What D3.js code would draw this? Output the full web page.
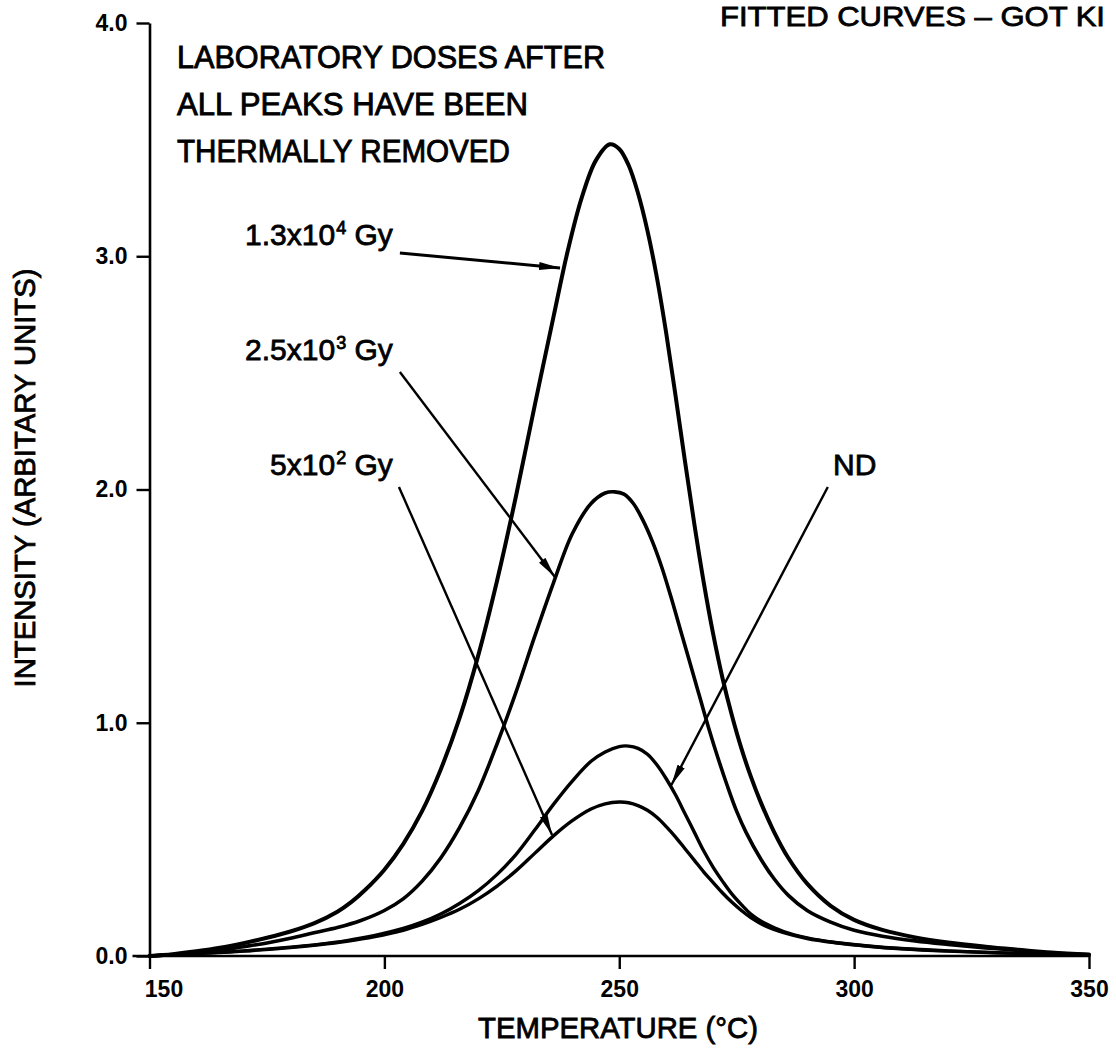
<!DOCTYPE html>
<html><head><meta charset="utf-8">
<script src="https://cdn.jsdelivr.net/npm/d3@7"></script>
<style>
body{margin:0;background:#fff}
svg{display:block;background:#fff}
text{font-family:"Liberation Sans",Arial,sans-serif;fill:#000}
</style>
</head><body>
<svg id="c" width="1116" height="1052"></svg>
<script>
// ---------- data ----------
const xTicks = [150, 200, 250, 300, 350];
const yTicks = [0, 1, 2, 3, 4];

// 1.3x10^4 Gy
const tempA = [150,155,160,165,170,175,180,185,190,193,196,200,204,208,212,216,220,224,228,232,236,239,242,245,248,250,252,254,256,258,260,262,264,266,268,270,272,274,276,278,280,283,286,290,295,300,306,313,320,328,335,342,350];
const intA  = [0,0.008,0.02,0.035,0.055,0.078,0.105,0.14,0.19,0.232,0.285,0.37,0.48,0.62,0.80,1.02,1.29,1.61,1.97,2.36,2.74,3.02,3.25,3.41,3.48,3.46,3.39,3.27,3.11,2.91,2.67,2.40,2.12,1.85,1.60,1.38,1.19,1.03,0.89,0.77,0.665,0.53,0.42,0.31,0.215,0.155,0.112,0.08,0.058,0.04,0.027,0.015,0.006];
// 2.5x10^3 Gy
const tempB = [150,155,160,165,170,175,180,185,190,195,200,204,208,212,216,220,224,228,232,236,240,244,247,249,251,253,255,257,259,261,263,265,267,269,271,273,275,277,280,283,286,290,295,300,306,313,320,328,335,342,350];
const intB  = [0,0.006,0.014,0.025,0.04,0.056,0.076,0.10,0.122,0.152,0.195,0.245,0.32,0.42,0.55,0.71,0.91,1.13,1.37,1.60,1.81,1.94,1.985,1.99,1.98,1.94,1.87,1.78,1.67,1.54,1.40,1.26,1.12,0.98,0.85,0.73,0.62,0.53,0.42,0.33,0.26,0.195,0.145,0.11,0.085,0.065,0.05,0.035,0.024,0.013,0.005];
// ND (natural dose)
const tempC = [150,160,170,180,186,192,198,204,208,212,216,220,224,228,232,236,240,244,247,250,252,254,256,258,260,262,264,266,268,270,272,274,276,278,281,285,290,296,303,310,320,335,350];
const intC  = [0,0.01,0.022,0.038,0.05,0.066,0.088,0.118,0.145,0.18,0.225,0.28,0.35,0.435,0.54,0.65,0.75,0.835,0.875,0.898,0.90,0.89,0.865,0.82,0.76,0.69,0.61,0.53,0.45,0.38,0.32,0.265,0.22,0.18,0.14,0.105,0.078,0.058,0.043,0.032,0.022,0.011,0.004];
// 5x10^2 Gy
const tempD = [150,160,170,180,186,192,198,204,208,212,216,220,224,228,232,236,240,244,247,250,252,254,256,258,260,262,264,266,268,270,272,274,276,278,281,285,290,296,303,310,320,335,350];
const intD  = [0,0.01,0.021,0.036,0.048,0.063,0.083,0.11,0.135,0.165,0.20,0.245,0.30,0.365,0.44,0.515,0.58,0.63,0.652,0.66,0.657,0.645,0.625,0.595,0.555,0.51,0.46,0.41,0.36,0.315,0.27,0.23,0.195,0.165,0.13,0.10,0.075,0.057,0.042,0.031,0.021,0.011,0.004];

const curveNames = ["1.3x10^4 Gy", "2.5x10^3 Gy", "ND", "5x10^2 Gy"];
const labelBase  = ["1.3x10", "2.5x10", "ND", "5x10"];
const labelSup   = ["4", "3", "", "2"];
// annotation anchors, in data units (temperature, intensity)
const labelAtT   = [201.8, 201.8, 295.5, 201.8];
const labelAtI   = [3.048, 2.555, 2.062, 2.062];
const arrowFromT = [203.3, 203.3, 294.4, 203.1];
const arrowFromI = [3.014, 2.504, 2.011, 2.011];
const arrowToT   = [237.4, 236.3, 261.1, 235.7];
const arrowToI   = [2.95, 1.625, 0.733, 0.519];

const noteLines = ["LABORATORY DOSES AFTER", "ALL PEAKS HAVE BEEN", "THERMALLY REMOVED"];
const titleText = "FITTED CURVES \u2013 GOT KI";
const xLabel = "TEMPERATURE (\u00B0C)";
const yLabel = "INTENSITY (ARBITARY UNITS)";

// ---------- chart ----------
const svg = d3.select("#c");
const x = d3.scaleLinear().domain([150, 350]).range([149.5, 1089]);
const y = d3.scaleLinear().domain([0, 4]).range([956, 23]);

const series = [
  {name: curveNames[0], t: tempA, v: intA, w: 4},
  {name: curveNames[1], t: tempB, v: intB, w: 3.6},
  {name: curveNames[2], t: tempC, v: intC, w: 3.4},
  {name: curveNames[3], t: tempD, v: intD, w: 3.4}
];

// x axis
const gx = svg.append("g").attr("transform", `translate(0,${y(0)})`)
  .call(d3.axisBottom(x).tickValues(xTicks).tickFormat(d3.format("d")).tickSize(13).tickSizeOuter(0).tickPadding(12));
gx.select(".domain").remove();
gx.append("line").attr("x1", x(150) - 17).attr("x2", x(350)).attr("y1", 0).attr("y2", 0)
  .attr("stroke", "#000").attr("stroke-width", 2.6);
gx.selectAll(".tick line").attr("stroke", "#000").attr("stroke-width", 2.4);
gx.selectAll(".tick text").attr("font-family", "Liberation Sans, Arial, sans-serif")
  .attr("font-size", 23).attr("font-weight", "bold").attr("fill", "#000")
  .attr("dx", d => d === 150 ? 14 : 0);

// y axis
const gy = svg.append("g").attr("transform", `translate(${x(150)},0)`)
  .call(d3.axisLeft(y).tickValues(yTicks).tickFormat(d3.format(".1f")).tickSize(13).tickSizeOuter(0).tickPadding(9));
gy.select(".domain").attr("stroke", "#000").attr("stroke-width", 2.6);
gy.selectAll(".tick line").attr("stroke", "#000").attr("stroke-width", 2.4);
gy.selectAll(".tick text").attr("font-family", "Liberation Sans, Arial, sans-serif")
  .attr("font-size", 23).attr("font-weight", "bold").attr("fill", "#000");

// curves
const line = d3.line().x(d => x(d[0])).y(d => y(d[1])).curve(d3.curveCatmullRom.alpha(0.5));
svg.append("g").selectAll("path.curve").data(series).join("path")
  .attr("class", "curve")
  .attr("d", s => line(s.t.map((t, i) => [t, s.v[i]])))
  .attr("fill", "none").attr("stroke", "#000")
  .attr("stroke-width", s => s.w).attr("stroke-linejoin", "round").attr("stroke-linecap", "round");

// arrow marker
svg.append("defs").append("marker")
  .attr("id", "ah").attr("markerUnits", "userSpaceOnUse")
  .attr("viewBox", "0 -5 22 10").attr("refX", 21).attr("refY", 0)
  .attr("markerWidth", 22).attr("markerHeight", 10).attr("orient", "auto")
  .append("path").attr("d", "M0,-4L21,0L0,4Z").attr("fill", "#000");

// annotations
const ann = svg.append("g");
curveNames.forEach((n, i) => {
  ann.append("line")
    .attr("x1", x(arrowFromT[i])).attr("y1", y(arrowFromI[i]))
    .attr("x2", x(arrowToT[i])).attr("y2", y(arrowToI[i]))
    .attr("stroke", "#000").attr("stroke-width", i === 0 ? 3 : 2.4)
    .attr("marker-end", "url(#ah)");
  const t = ann.append("text")
    .attr("x", x(labelAtT[i])).attr("y", y(labelAtI[i]))
    .attr("font-size", 30).attr("text-anchor", i === 2 ? "start" : "end")
    .attr("stroke", "#000").attr("stroke-width", 0.8);
  t.append("tspan").text(labelBase[i]);
  if (labelSup[i]) {
    t.append("tspan").attr("font-size", 18).attr("dy", -11).attr("dx", 1).text(labelSup[i]);
    t.append("tspan").attr("dy", 11).text("\u00A0Gy");
  }
});

// note block
const noteWidths = [428, 351, 333];
noteLines.forEach((s, i) => {
  svg.append("text").attr("x", 177).attr("y", 68 + i * 47)
    .attr("font-size", 32).attr("textLength", noteWidths[i]).attr("lengthAdjust", "spacingAndGlyphs")
    .attr("stroke", "#000").attr("stroke-width", 0.9)
    .text(s);
});

// title (at top right edge, as in the source)
svg.append("text").attr("x", 720).attr("y", 26).attr("font-size", 28)
  .attr("textLength", 385).attr("lengthAdjust", "spacingAndGlyphs")
  .attr("stroke", "#000").attr("stroke-width", 0.8).text(titleText);

// axis titles
svg.append("text").attr("x", 618).attr("y", 1038).attr("text-anchor", "middle")
  .attr("font-size", 29).attr("textLength", 280).attr("lengthAdjust", "spacingAndGlyphs")
  .attr("stroke", "#000").attr("stroke-width", 0.8).text(xLabel);
svg.append("text").attr("transform", "translate(35,478) rotate(-90)").attr("text-anchor", "middle")
  .attr("font-size", 29).attr("textLength", 419).attr("lengthAdjust", "spacingAndGlyphs")
  .attr("stroke", "#000").attr("stroke-width", 0.8).text(yLabel);
</script>
</body></html>
